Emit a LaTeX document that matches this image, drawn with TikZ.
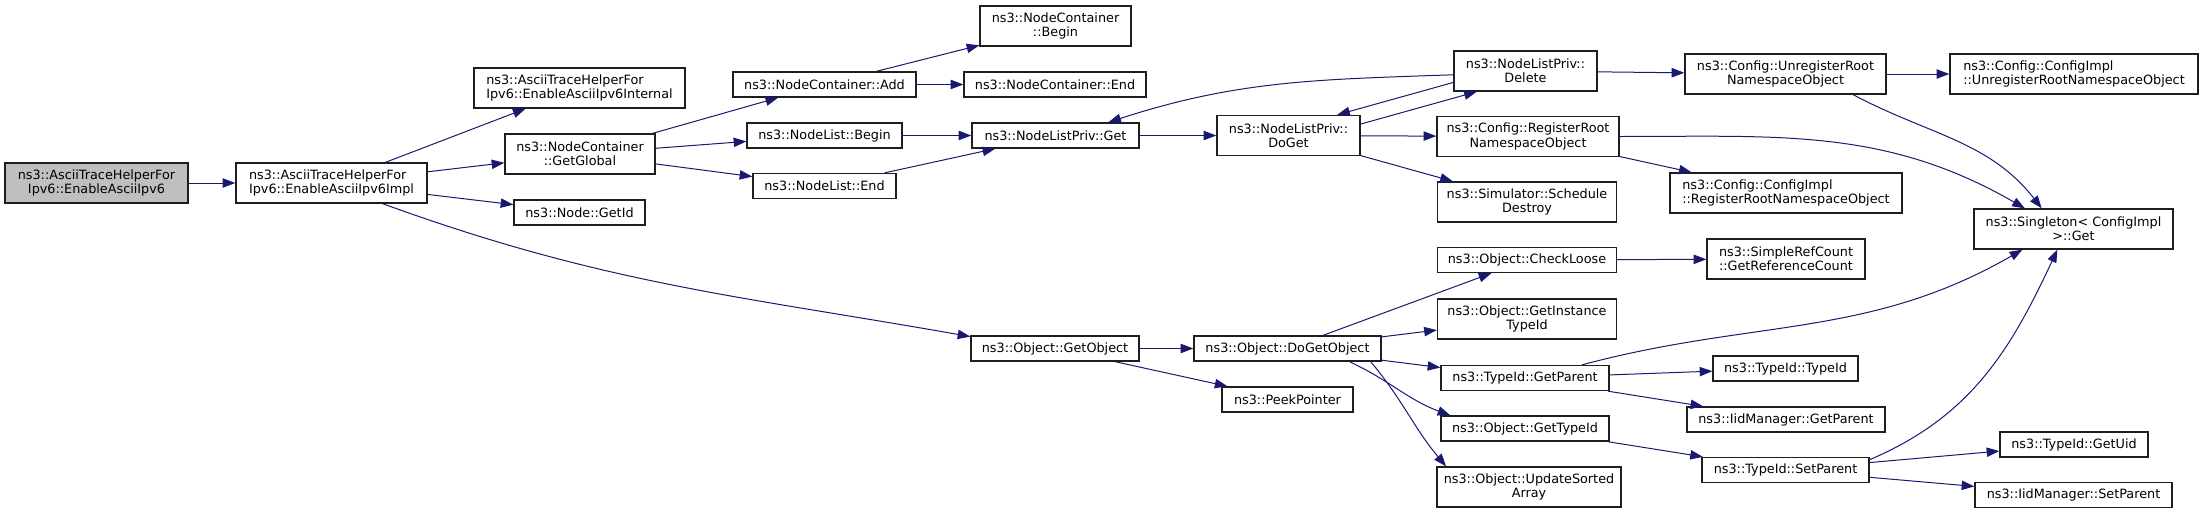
\documentclass[tikz,border=0pt]{standalone}
\usepackage{fontspec}
\setmainfont{DejaVu Sans}
\usetikzlibrary{arrows.meta}
\definecolor{edgeblue}{RGB}{25,25,112}
\definecolor{boxgray}{RGB}{191,191,191}
\definecolor{boxline}{RGB}{30,30,30}
\tikzset{
  fn/.style={rectangle,draw=boxline,fill=white,line width=1pt,inner sep=1pt,
    font=\fontsize{9.6}{10.7}\selectfont,align=center},
  lfn/.style={fn,align=left},
  cur/.style={fn,fill=boxgray},
  one/.style={minimum height=18.75pt},
  two/.style={minimum height=30pt},
  bw/.style={minimum width=#1*0.75pt},
  call/.style={-{Triangle[length=9.5pt,width=7pt]},color=edgeblue,line width=0.75pt}
}

\begin{document}
\begin{tikzpicture}[x=0.75pt,y=0.75pt]
  \useasboundingbox (0,0) rectangle (2203,-514);

  % Caller and first level
  \node[cur,two,bw=183] (enable) at (96.5,-183) {ns3::AsciiTraceHelperFor\\Ipv6::EnableAsciiIpv6};
  \node[lfn,two,bw=191] (impl) at (331.5,-183) {ns3::AsciiTraceHelperFor\\Ipv6::EnableAsciiIpv6Impl};
  \node[lfn,two,bw=211] (internal) at (579.5,-88) {ns3::AsciiTraceHelperFor\\Ipv6::EnableAsciiIpv6Internal};
  \node[fn,two,bw=150] (getglobal) at (580,-154) {ns3::NodeContainer\\::GetGlobal};
  \node[fn,one,bw=131] (getid) at (579.5,-212.5) {ns3::Node::GetId};

  % Node containers and lists
  \node[fn,two,bw=151] (ncbegin) at (1055.5,-26) {ns3::NodeContainer\\::Begin};
  \node[fn,one,bw=183] (ncadd) at (824.5,-84.5) {ns3::NodeContainer::Add};
  \node[fn,one,bw=182] (ncend) at (1055,-84.5) {ns3::NodeContainer::End};
  \node[fn,one,bw=155] (nlbegin) at (824.5,-135.5) {ns3::NodeList::Begin};
  \node[fn,one,bw=167] (nlpget) at (1055.5,-135.5) {ns3::NodeListPriv::Get};
  \node[fn,one,bw=143] (nlend) at (824.5,-186) {ns3::NodeList::End};
  \node[fn,two,bw=143] (doget) at (1288.5,-135.5) {ns3::NodeListPriv::\\DoGet};

  % Config and simulator
  \node[fn,two,bw=143] (delete) at (1525.5,-71) {ns3::NodeListPriv::\\Delete};
  \node[fn,two,bw=201] (unreg) at (1785.5,-74) {ns3::Config::UnregisterRoot\\NamespaceObject};
  \node[lfn,two,bw=248] (ciunreg) at (2074,-74) {ns3::Config::ConfigImpl\\::UnregisterRootNamespaceObject};
  \node[fn,two,bw=182] (reg) at (1528,-136.5) {ns3::Config::RegisterRoot\\NamespaceObject};
  \node[lfn,two,bw=232] (cireg) at (1786,-193) {ns3::Config::ConfigImpl\\::RegisterRootNamespaceObject};
  \node[fn,two,bw=179] (destroy) at (1527,-202) {ns3::Simulator::Schedule\\Destroy};
  \node[fn,two,bw=199] (singleton) at (2073.5,-229) {ns3::Singleton< ConfigImpl\\>::Get};

  % Object branch
  \node[fn,one,bw=168] (getobject) at (1055,-348.5) {ns3::Object::GetObject};
  \node[fn,one,bw=187] (dogetobject) at (1287.5,-348.5) {ns3::Object::DoGetObject};
  \node[fn,one,bw=131] (peek) at (1287.5,-399.5) {ns3::PeekPointer};
  \node[fn,one,bw=179] (checkloose) at (1527,-260) {ns3::Object::CheckLoose};
  \node[lfn,two,bw=158] (refcount) at (1786,-259) {ns3::SimpleRefCount\\::GetReferenceCount};
  \node[fn,two,bw=179] (insttype) at (1527,-319) {ns3::Object::GetInstance\\TypeId};
  \node[fn,one,bw=168] (getparent) at (1525,-378) {ns3::TypeId::GetParent};
  \node[fn,one,bw=145] (typeid) at (1785.5,-368.5) {ns3::TypeId::TypeId};
  \node[fn,one,bw=198] (iidgetparent) at (1786,-419.5) {ns3::IidManager::GetParent};
  \node[fn,one,bw=168] (gettypeid) at (1525,-428.5) {ns3::Object::GetTypeId};
  \node[fn,one,bw=167] (setparent) at (1785.5,-470) {ns3::TypeId::SetParent};
  \node[fn,one,bw=148] (getuid) at (2074,-444.5) {ns3::TypeId::GetUid};
  \node[fn,one,bw=197] (iidsetparent) at (2073.5,-495) {ns3::IidManager::SetParent};
  \node[fn,two,bw=184] (sorted) at (1529,-487) {ns3::Object::UpdateSorted\\Array};

  % Calls
  \draw[call] (enable) -- (impl);
  \draw[call] (impl) -- (internal);
  \draw[call] (impl) -- (getglobal);
  \draw[call] (impl) -- (getid);
  \draw[call] (impl.-22) to[out=-20,in=170] (getobject.172);
  \draw[call] (getglobal) -- (ncadd);
  \draw[call] (getglobal) -- (nlbegin);
  \draw[call] (getglobal) -- (nlend);
  \draw[call] (ncadd) -- (ncbegin);
  \draw[call] (ncadd) -- (ncend);
  \draw[call] (nlbegin) -- (nlpget);
  \draw[call] (nlend) -- (nlpget);
  \draw[call] (nlpget) -- (doget);
  \draw[call] (doget.9) -- (delete.203);
  \draw[call] (delete.189) -- (doget.23);
  \draw[call] (delete.183) to[out=182,in=18] (nlpget.14);
  \draw[call] (doget) -- (reg);
  \draw[call] (doget) -- (destroy);
  \draw[call] (delete) -- (unreg);
  \draw[call] (unreg) -- (ciunreg);
  \draw[call] (unreg.-17) to[out=-28,in=128] (singleton.147);
  \draw[call] (reg) -- (cireg);
  \draw[call] (reg.east) to[out=0,in=150] (singleton.157);
  \draw[call] (getobject) -- (dogetobject);
  \draw[call] (getobject) -- (peek);
  \draw[call] (dogetobject) -- (checkloose);
  \draw[call] (dogetobject) -- (insttype);
  \draw[call] (dogetobject) -- (getparent);
  \draw[call] (dogetobject.-12) to[out=-25,in=160] (gettypeid.170);
  \draw[call] (dogetobject.-9) to[out=-50,in=130] (sorted.166);
  \draw[call] (checkloose) -- (refcount);
  \draw[call] (getparent.13) to[out=15,in=-150] (singleton.202);
  \draw[call] (getparent) -- (typeid);
  \draw[call] (getparent) -- (iidgetparent);
  \draw[call] (gettypeid) -- (setparent);
  \draw[call] (setparent.7) to[out=23,in=-115] (singleton.232);
  \draw[call] (setparent) -- (getuid);
  \draw[call] (setparent) -- (iidsetparent);
\end{tikzpicture}
\end{document}
